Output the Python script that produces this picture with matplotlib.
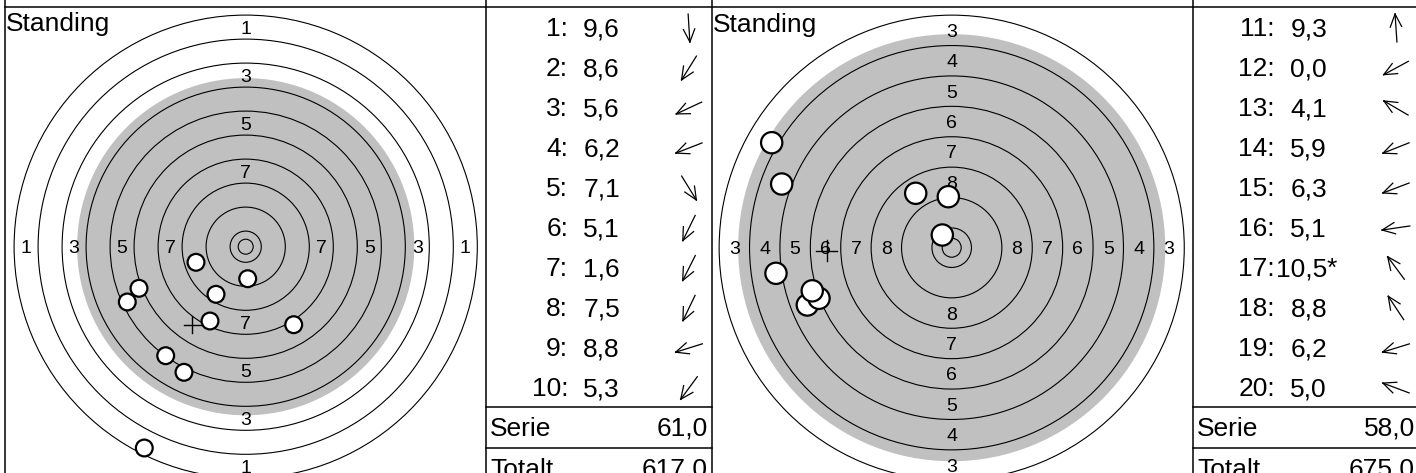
import numpy as np
import matplotlib
matplotlib.use("Agg")
import matplotlib.pyplot as plt
from matplotlib.patches import Circle

plt.rcParams['font.family'] = ['Liberation Sans', 'DejaVu Sans']

# serie 1 (left target): shot no, score, hit position in mm (x right, y up)
shots_a_no = list(range(1, 11))
shots_a_score = ["9,6", "8,6", "5,6", "6,2", "7,1", "5,1", "1,6", "7,5", "8,8", "5,3"]
shots_a_x = [0.67, -9.9, -39.47, -35.57, 16.0, -20.57, -33.8, -11.9, -16.57, -26.67]
shots_a_y = [-10.67, -15.87, -18.43, -13.87, -26.0, -41.87, -67.1, -24.77, -5.2, -36.33]
serie_a, total_a = "61,0", "617,0"

# serie 2 (right target), shot 12 is a miss outside the view
shots_b_no = list(range(11, 21))
shots_b_score = ["9,3", "0,0", "4,1", "5,9", "6,3", "5,1", "10,5*", "8,8", "6,2", "5,0"]
shots_b_x = [-0.89, -68.1, -47.37, -38.0, -34.92, -46.24, -2.47, -9.47, -36.7, -44.74]
shots_b_y = [13.42, -36.9, 27.63, -15.08, -13.32, -6.74, 3.34, 14.32, -11.35, 16.76]
serie_b, total_b = "58,0", "675,0"

ring_labels_a = [1, 3, 5, 7]
ring_labels_b = [3, 4, 5, 6, 7, 8]

# 50m rifle target geometry (mm)
def ring_r(k):
    return 77.2 - 8 * (k - 1)
BLACK_R = 56.2
INNER_TEN = 2.5
BULLET_R = 2.8
GRAY = "#c0c0c0"

W, H = 1416, 473
fig = plt.figure(figsize=(W / 100, H / 100), dpi=100)

# base layer in pixel coords for frame + tables
base = fig.add_axes([0, 0, 1, 1])
base.set_xlim(0, W)
base.set_ylim(H, 0)
base.axis('off')

LW_FRAME = 1.1
base.plot([5, W], [7, 7], color='black', lw=LW_FRAME)
for xv in [5, 486, 712, 1193]:
    base.plot([xv, xv], [0, H], color='black', lw=LW_FRAME)


def draw_target(x0, x1, cx, cy, scale, first_ring, labels, xs, ys):
    y0, y1 = 7, H
    ax = fig.add_axes([x0 / W, 1 - y1 / H, (x1 - x0) / W, (y1 - y0) / H])
    ax.set_xlim((x0 - cx) / scale, (x1 - cx) / scale)
    ax.set_ylim((cy - y1) / scale, (cy - y0) / scale)
    ax.axis('off')
    ax.add_patch(Circle((0, 0), BLACK_R, fc=GRAY, ec='none'))
    for k in range(first_ring, 11):
        ax.add_patch(Circle((0, 0), ring_r(k), fill=False, ec='black', lw=0.8))
    ax.add_patch(Circle((0, 0), INNER_TEN, fill=False, ec='black', lw=0.8))
    for k in labels:
        r = ring_r(k) - 4
        for px, py in [(0, r), (0, -r), (-r, 0), (r, 0)]:
            ax.text(px, py, str(k), ha='center', va='center_baseline', fontsize=14)
    for x, y in zip(xs, ys):
        ax.add_patch(Circle((x, y), BULLET_R, fc='white', ec='black', lw=1.6, zorder=4))
    mx, my = np.mean(xs), np.mean(ys)
    ax.plot([mx - BULLET_R, mx + BULLET_R], [my, my], color='black', lw=1, zorder=3)
    ax.plot([mx, mx], [my - BULLET_R, my + BULLET_R], color='black', lw=1, zorder=3)
    ax.text((x0 - cx) / scale + 1 / scale, (cy - 31.5) / scale, "Standing",
            ha='left', va='baseline', fontsize=19)


def draw_table(left, right, nos, scores, xs, ys, serie, total):
    fs = 19
    for i, (n, s, x, y) in enumerate(zip(nos, scores, xs, ys)):
        bl = 36 + 40 * i
        base.text(left + 82, bl, f"{n}:", ha='right', va='baseline', fontsize=fs)
        val = s.rstrip('*')
        base.text(left + 134, bl, val, ha='right', va='baseline', fontsize=fs)
        if s.endswith('*'):
            base.text(left + 134, bl, '*', ha='left', va='baseline', fontsize=fs)
        # direction arrow from target center towards the hit
        ang = np.arctan2(-y, x)
        ax_c, ay_c = left + 203, 28 + 40 * i
        dx, dy = 14 * np.cos(ang), 14 * np.sin(ang)
        tx, ty = ax_c + dx, ay_c + dy
        base.plot([ax_c - dx, tx], [ay_c - dy, ty], color='black', lw=0.9)
        for sgn in (1, -1):
            a2 = ang + np.pi + sgn * np.radians(24)
            base.plot([tx, tx + 14 * np.cos(a2)], [ty, ty + 14 * np.sin(a2)],
                      color='black', lw=0.9)
    base.plot([left, right], [407, 407], color='black', lw=LW_FRAME)
    base.plot([left, right], [448, 448], color='black', lw=LW_FRAME)
    base.text(left + 4, 435.5, "Serie", ha='left', va='baseline', fontsize=fs)
    base.text(left + 222, 435.5, serie, ha='right', va='baseline', fontsize=fs)
    base.text(left + 4, 476.5, "Totalt", ha='left', va='baseline', fontsize=fs)
    base.text(left + 222, 476.5, total, ha='right', va='baseline', fontsize=fs)


draw_target(5, 486, 245.7, 246.7, 3.0, 1, ring_labels_a, shots_a_x, shots_a_y)
draw_target(712, 1193, 951.7, 247.7, 3.8, 3, ring_labels_b, shots_b_x, shots_b_y)
draw_table(486, 712, shots_a_no, shots_a_score, shots_a_x, shots_a_y, serie_a, total_a)
draw_table(1193, W, shots_b_no, shots_b_score, shots_b_x, shots_b_y, serie_b, total_b)

fig.savefig("out.png", dpi=100)
